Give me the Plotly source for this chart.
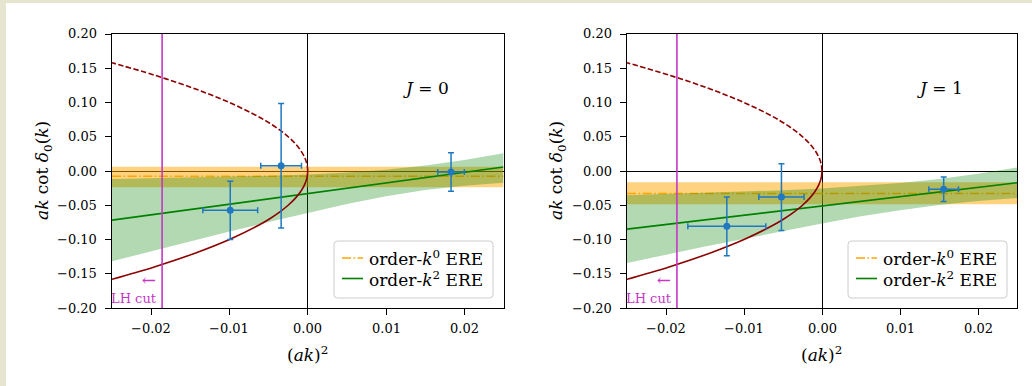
import plotly.graph_objects as go

# ---------------- data ----------------
# shared x grid for the fitted bands
band_x = [-0.025, -0.02, -0.015, -0.01, -0.005, 0.0, 0.005, 0.01, 0.015, 0.02, 0.025]

# J = 0
j0_k2_line = [-0.0718, -0.0640, -0.0563, -0.0485, -0.0408, -0.0330, -0.0253, -0.0175, -0.0098, -0.0020, 0.0058]
j0_k2_upper = [-0.0118, -0.0108, -0.0098, -0.0085, -0.0070, -0.0050, -0.0023, 0.0019, 0.0080, 0.0160, 0.0260]
j0_k2_lower = [-0.1318, -0.1172, -0.1028, -0.0885, -0.0746, -0.0610, -0.0483, -0.0369, -0.0278, -0.0214, -0.0172]
j0_k0_value = -0.0075
j0_k0_upper = 0.0062
j0_k0_lower = -0.0236
j0_pts_x = [-0.0099, -0.0034, 0.0183]
j0_pts_y = [-0.0574, 0.0077, -0.0015]
j0_pts_xerr = [0.0035, 0.0026, 0.0017]
j0_pts_yerr = [0.0425, 0.0910, 0.0280]

# J = 1
j1_k2_line = [-0.0849, -0.0781, -0.0713, -0.0645, -0.0578, -0.0510, -0.0442, -0.0375, -0.0307, -0.0239, -0.0172]
j1_k2_upper = [-0.0355, -0.0339, -0.0322, -0.0302, -0.0281, -0.0254, -0.0220, -0.0177, -0.0117, -0.0041, 0.0050]
j1_k2_lower = [-0.1343, -0.1223, -0.1104, -0.0988, -0.0875, -0.0766, -0.0662, -0.0573, -0.0497, -0.0437, -0.0394]
j1_k0_value = -0.0330
j1_k0_upper = -0.0165
j1_k0_lower = -0.0486
j1_pts_x = [-0.0122, -0.0052, 0.0156]
j1_pts_y = [-0.0808, -0.0380, -0.0267]
j1_pts_xerr = [0.0050, 0.0029, 0.0019]
j1_pts_yerr = [0.0430, 0.0487, 0.0178]

# bound-state curve: upper branch dashed, lower branch solid
curve_x = [0.0, -0.0001, -0.0004, -0.0009, -0.0016, -0.0025, -0.0036, -0.0049, -0.0064,
           -0.0100, -0.0144, -0.0196, -0.0250]
curve_y_upper = [0.0, 0.01, 0.02, 0.03, 0.04, 0.05, 0.06, 0.07, 0.08, 0.10, 0.12, 0.14, 0.158]
curve_y_lower = [0.0, -0.01, -0.02, -0.03, -0.04, -0.05, -0.06, -0.07, -0.08, -0.10, -0.12, -0.14, -0.158]

lh_cut = -0.0186
x_range = [-0.025, 0.025]
y_range = [-0.20, 0.20]
x_ticks = [-0.02, -0.01, 0.0, 0.01, 0.02]
x_tick_text = ["\u22120.02", "\u22120.01", "0.00", "0.01", "0.02"]
y_ticks = [0.20, 0.15, 0.10, 0.05, 0.0, -0.05, -0.10, -0.15, -0.20]
y_tick_text = ["0.20", "0.15", "0.10", "0.05", "0.00", "\u22120.05", "\u22120.10", "\u22120.15", "\u22120.20"]
panel_labels = ["<i>J</i> = 0", "<i>J</i> = 1"]
legend_labels = ["order-<i>k</i><sup>0</sup> ERE", "order-<i>k</i><sup>2</sup> ERE"]

# ---------------- styling ----------------
FONT = "DejaVu Serif"
ORANGE = "#ffa500"
GREEN = "#008000"
DARKRED = "#8b0000"
MAGENTA = "#c438c4"
BLUE = "#1f78c0"
K0_DASH = "9px,2.5px,1.6px,2.5px"

W, H = 1026, 383
fig = go.Figure()

panels = [
    dict(xa="x", ya="y", k2=(j0_k2_line, j0_k2_upper, j0_k2_lower),
         k0=(j0_k0_value, j0_k0_upper, j0_k0_lower),
         pts=(j0_pts_x, j0_pts_y, j0_pts_xerr, j0_pts_yerr), label=panel_labels[0],
         legend_box=(328, 487, 238, 295), left_px=106),
    dict(xa="x2", ya="y2", k2=(j1_k2_line, j1_k2_upper, j1_k2_lower),
         k0=(j1_k0_value, j1_k0_upper, j1_k0_lower),
         pts=(j1_pts_x, j1_pts_y, j1_pts_xerr, j1_pts_yerr), label=panel_labels[1],
         legend_box=(842, 1001, 238, 295), left_px=621),
]


def px2paper(x, y):
    return x / W, 1 - y / H


def rounded_box(x0, x1, y0, y1, r=3.5):
    def P(x, y):
        a, b = px2paper(x, y)
        return f"{a:.6f},{b:.6f}"
    return (f"M {P(x0 + r, y0)} L {P(x1 - r, y0)} Q {P(x1, y0)} {P(x1, y0 + r)} "
            f"L {P(x1, y1 - r)} Q {P(x1, y1)} {P(x1 - r, y1)} "
            f"L {P(x0 + r, y1)} Q {P(x0, y1)} {P(x0, y1 - r)} "
            f"L {P(x0, y0 + r)} Q {P(x0, y0)} {P(x0 + r, y0)} Z")


tick_font = dict(family=FONT, size=13, color="black")

for p in panels:
    xa, ya = p["xa"], p["ya"]
    line, up, lo = p["k2"]
    k0v, k0u, k0l = p["k0"]
    # order-k^0 band
    fig.add_trace(go.Scatter(
        x=[x_range[0], x_range[1], x_range[1], x_range[0]],
        y=[k0u, k0u, k0l, k0l], fill="toself", fillcolor="rgba(255,165,0,0.5)",
        line=dict(width=0), mode="lines", hoverinfo="skip", showlegend=False,
        xaxis=xa, yaxis=ya))
    fig.add_trace(go.Scatter(
        x=x_range, y=[k0v, k0v], mode="lines",
        line=dict(color=ORANGE, width=1.5, dash=K0_DASH),
        name=legend_labels[0], showlegend=False, xaxis=xa, yaxis=ya))
    # order-k^2 band
    fig.add_trace(go.Scatter(
        x=band_x + band_x[::-1], y=up + lo[::-1], fill="toself",
        fillcolor="rgba(0,128,0,0.3)", line=dict(width=0), mode="lines",
        hoverinfo="skip", showlegend=False, xaxis=xa, yaxis=ya))
    fig.add_trace(go.Scatter(
        x=band_x, y=line, mode="lines", line=dict(color=GREEN, width=1.6),
        name=legend_labels[1], showlegend=False, xaxis=xa, yaxis=ya))
    # bound-state curve
    fig.add_trace(go.Scatter(
        x=curve_x, y=curve_y_upper, mode="lines", line_shape="spline",
        line=dict(color=DARKRED, width=1.6, dash="5.5px,2.4px"),
        showlegend=False, xaxis=xa, yaxis=ya))
    fig.add_trace(go.Scatter(
        x=curve_x, y=curve_y_lower, mode="lines", line_shape="spline",
        line=dict(color=DARKRED, width=1.6), showlegend=False, xaxis=xa, yaxis=ya))
    # left-hand cut
    fig.add_trace(go.Scatter(
        x=[lh_cut, lh_cut], y=y_range, mode="lines",
        line=dict(color=MAGENTA, width=1.6), showlegend=False, xaxis=xa, yaxis=ya))
    # lattice points
    px, py, pxe, pye = p["pts"]
    fig.add_trace(go.Scatter(
        x=px, y=py, mode="markers",
        marker=dict(color=BLUE, size=7),
        error_x=dict(type="data", array=pxe, color=BLUE, thickness=1.5, width=3),
        error_y=dict(type="data", array=pye, color=BLUE, thickness=1.5, width=3),
        showlegend=False, xaxis=xa, yaxis=ya))
    # annotations
    fig.add_annotation(x=0.0151, y=0.1216, xref=xa, yref=ya, text=p["label"],
                       xanchor="center", yanchor="middle",
                       showarrow=False, font=dict(family=FONT, size=17, color="black"))
    fig.add_annotation(x=-0.01902, y=-0.1995, xref=xa, yref=ya,
                       text="<span style='font-size:17px'>\u2190</span><br>LH cut",
                       xanchor="right", yanchor="bottom", align="right",
                       showarrow=False, font=dict(family=FONT, size=13, color=MAGENTA))

    # tick labels placed explicitly
    for tv, tt in zip(x_ticks, x_tick_text):
        fig.add_annotation(x=tv, y=1 - 325 / H, xref=xa, yref="paper", text=tt,
                           xanchor="center", yanchor="middle", showarrow=False,
                           font=tick_font)
    for tv, tt in zip(y_ticks, y_tick_text):
        fig.add_annotation(x=(p["left_px"] - 13) / W, y=tv, xref="paper", yref=ya, text=tt,
                           xanchor="right", yanchor="middle", showarrow=False,
                           font=tick_font)

    # legend box drawn by hand (matplotlib style)
    bx0, bx1, by0, by1 = p["legend_box"]
    fig.add_shape(type="path", xref="paper", yref="paper",
                  path=rounded_box(bx0, bx1, by0, by1),
                  fillcolor="rgba(255,255,255,0.8)", line=dict(color="#cccccc", width=1))
    rows = [(by0 + 17, ORANGE, K0_DASH, legend_labels[0]),
            (by0 + 37.5, GREEN, "solid", legend_labels[1])]
    for ry, col, dash, txt in rows:
        sx0, sy = px2paper(bx0 + 8, ry)
        sx1, _ = px2paper(bx0 + 29, ry)
        fig.add_shape(type="line", xref="paper", yref="paper", x0=sx0, x1=sx1, y0=sy, y1=sy,
                      line=dict(color=col, width=1.6, dash=dash))
        tx, ty = px2paper(bx0 + 33, ry)
        fig.add_annotation(x=tx, y=ty, xref="paper", yref="paper", text=txt,
                           xanchor="left", yanchor="middle", showarrow=False,
                           font=dict(family=FONT, size=17, color="black"))

axis_common = dict(range=x_range, showline=True, linecolor="black", linewidth=1,
                   mirror=True, ticks="outside", ticklen=6, tickwidth=0.9, tickcolor="black",
                   showgrid=False, zeroline=True, zerolinecolor="black", zerolinewidth=0.8,
                   tickvals=x_ticks, showticklabels=False)
yaxis_common = dict(range=y_range, showline=True, linecolor="black", linewidth=1,
                    mirror=True, ticks="outside", ticklen=6, tickwidth=0.9, tickcolor="black",
                    showgrid=False, zeroline=True, zerolinecolor="black", zerolinewidth=0.8,
                    tickvals=y_ticks, showticklabels=False,
                    domain=[1 - 305 / H, 1 - 31 / H])

fig.update_layout(
    width=W, height=H,
    margin=dict(l=0, r=0, t=0, b=0),
    paper_bgcolor="white", plot_bgcolor="white",
    font=dict(family=FONT, color="black"),
    showlegend=False,
    xaxis=dict(domain=[106 / W, 497.5 / W], anchor="y", **axis_common),
    yaxis=dict(anchor="x", **yaxis_common),
    xaxis2=dict(domain=[621 / W, 1011 / W], anchor="y2", **axis_common),
    yaxis2=dict(anchor="x2", **yaxis_common),
)

# axis titles
for cx, cy in [(37, 168), (551, 168)]:
    fig.add_annotation(x=cx / W, y=1 - cy / H, xref="paper", yref="paper", textangle=-90,
                       xanchor="center", yanchor="middle",
                       text="<i>ak</i> cot <i>\u03b4</i><sub>0</sub>(<i>k</i>)", showarrow=False,
                       font=dict(family=FONT, size=17, color="black"))
for cx, cy in [(301, 351), (815, 351)]:
    fig.add_annotation(x=cx / W, y=1 - cy / H, xref="paper", yref="paper",
                       xanchor="center", yanchor="middle",
                       text="(<i>ak</i>)<sup>2</sup>", showarrow=False,
                       font=dict(family=FONT, size=17, color="black"))

fig.write_html(
    "out.html",
    post_script="document.body.style.margin='3px 0 0 6px';"
                "document.body.style.background='#e6e6d0';"
                "document.body.style.overflow='hidden';",
)
